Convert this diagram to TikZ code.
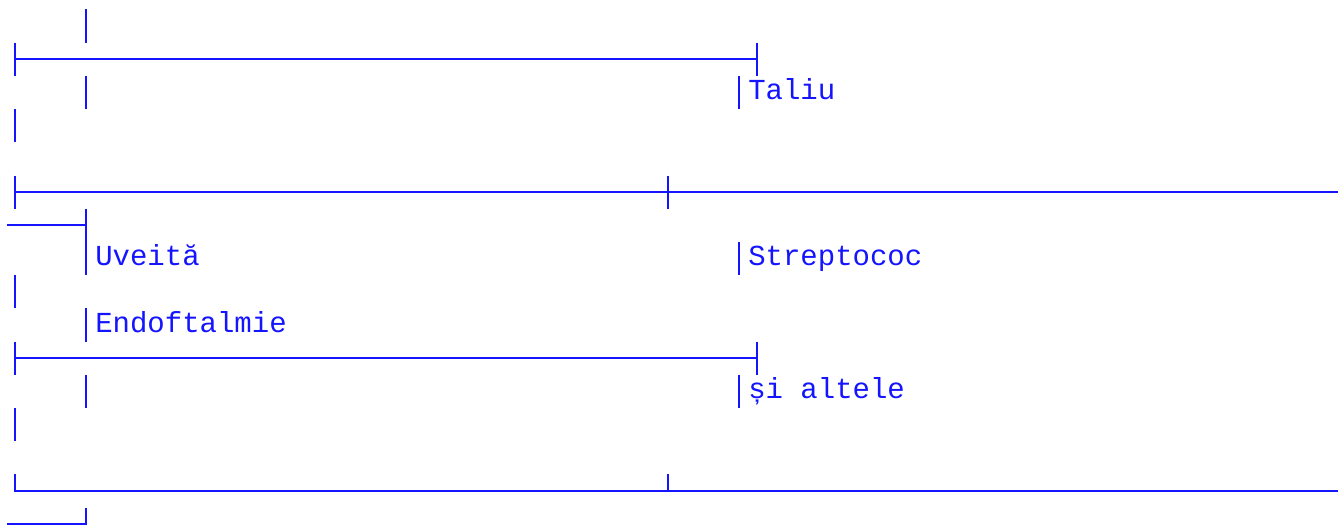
\documentclass[tikz,border=0pt]{standalone}
\usepackage{fontspec}
\setmonofont{Liberation Mono}
\definecolor{treeblue}{RGB}{20,20,255}
\tikzset{
  branch/.style={treeblue, line width=1.5pt},
  leaf/.style={treeblue, anchor=base west, inner sep=0pt, font=\ttfamily\fontsize{21.75}{26}\selectfont}
}
\begin{document}
\begin{tikzpicture}[x=0.75pt, y=-0.75pt]
	\useasboundingbox (0,0) rectangle (1338,528);
	% top block
	\draw[branch] (86,9.5) -- (86,42.7);
	\draw[branch] (15,42.7) -- (15,75.9);
	\draw[branch] (15,59.3) -- (757,59.3);
	\draw[branch] (757,42.7) -- (757,75.9);
	\draw[branch] (86,75.9) -- (86,109.1);
	\draw[branch] (739,75.9) -- (739,109.1);
	\node[leaf] (taliu) at (748,99.9) {Taliu};
	\draw[branch] (15,109.1) -- (15,142.3);
	% middle block
	\draw[branch] (15,175.5) -- (15,208.7);
	\draw[branch] (15,192.1) -- (1338,192.1);
	\draw[branch] (668,175.5) -- (668,208.7);
	\draw[branch] (7,225.3) -- (86,225.3);
	\draw[branch] (86,208.7) -- (86,275.1);
	\node[leaf] (uveita) at (95,265.9) {Uveită};
	\draw[branch] (739,241.9) -- (739,275.1);
	\node[leaf] (strepto) at (748,265.9) {Streptococ};
	\draw[branch] (15,275.1) -- (15,308.3);
	\draw[branch] (86,308.3) -- (86,341.5);
	\node[leaf] (endo) at (95,332.3) {Endoftalmie};
	% lower block
	\draw[branch] (15,341.5) -- (15,374.7);
	\draw[branch] (15,358.1) -- (757,358.1);
	\draw[branch] (757,341.5) -- (757,374.7);
	\draw[branch] (86,374.7) -- (86,407.9);
	\draw[branch] (739,374.7) -- (739,407.9);
	\node[leaf] (altele) at (748,398.7) {și altele};
	\draw[branch] (15,407.9) -- (15,441.1);
	% bottom corners
	\draw[branch] (15,474.3) -- (15,490.9) -- (1338,490.9);
	\draw[branch] (668,474.3) -- (668,490.9);
	\draw[branch] (7,524.1) -- (86,524.1) -- (86,507.5);
\end{tikzpicture}
\end{document}
